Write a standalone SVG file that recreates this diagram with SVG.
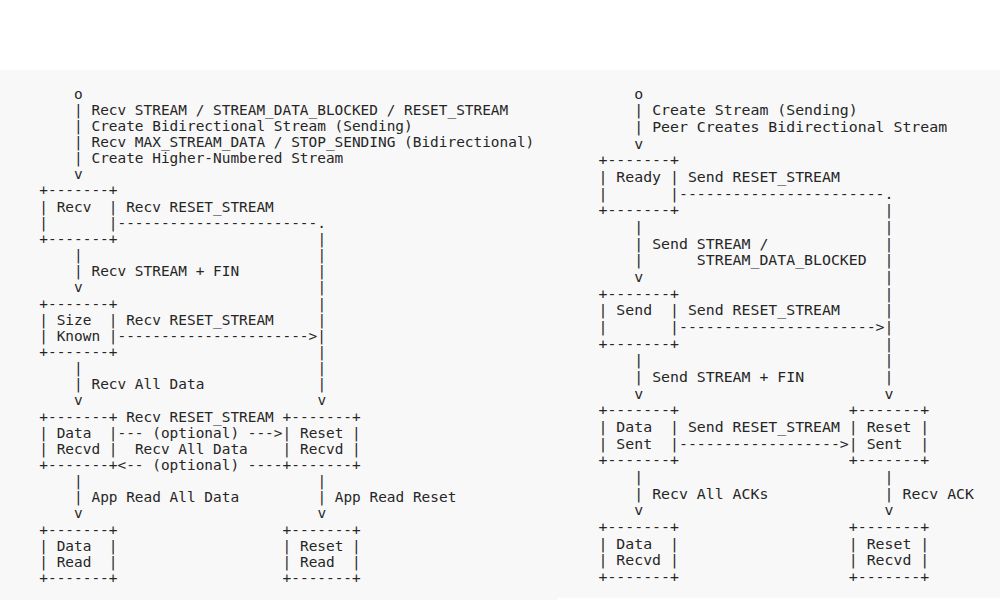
<svg xmlns="http://www.w3.org/2000/svg" width="1000" height="600" viewBox="0 0 1000 600" xml:space="preserve">
<style>
text{font-family:"DejaVu Sans Mono","Liberation Mono",monospace;fill:#262626;white-space:pre}
.l{font-size:14.43px}
.r{font-size:14.85px}
</style>
<rect x="0" y="0" width="1000" height="600" fill="#ffffff"/>
<rect x="0" y="70" width="1000" height="530" fill="#f8f8f8"/>
<rect x="557" y="598" width="443" height="2" fill="#ffffff"/>

<!-- LEFT: receiving stream states -->
<g id="left-diagram" class="l">
  <g id="recv-start"><text x="74.1" y="98.5">o</text></g>
  <g id="node-recv">
    <text x="39.3" y="195.4">+-------+</text>
    <text x="39.3" y="211.6">| Recv  |</text>
    <text x="39.3" y="227.7">|       |</text>
    <text x="39.3" y="243.9">+-------+</text>
  </g>
  <g id="node-size-known">
    <text x="39.3" y="308.5">+-------+</text>
    <text x="39.3" y="324.6">| Size  |</text>
    <text x="39.3" y="340.8">| Known |</text>
    <text x="39.3" y="356.9">+-------+</text>
  </g>
  <g id="node-data-recvd">
    <text x="39.3" y="421.5">+-------+</text>
    <text x="39.3" y="437.7">| Data  |</text>
    <text x="39.3" y="453.8">| Recvd |</text>
    <text x="39.3" y="470.0">+-------+</text>
  </g>
  <g id="node-reset-recvd">
    <text x="282.6" y="421.5">+-------+</text>
    <text x="282.6" y="437.7">| Reset |</text>
    <text x="282.6" y="453.8">| Recvd |</text>
    <text x="282.6" y="470.0">+-------+</text>
  </g>
  <g id="node-data-read">
    <text x="39.3" y="534.6">+-------+</text>
    <text x="39.3" y="550.7">| Data  |</text>
    <text x="39.3" y="566.9">| Read  |</text>
    <text x="39.3" y="583.0">+-------+</text>
  </g>
  <g id="node-reset-read">
    <text x="282.6" y="534.6">+-------+</text>
    <text x="282.6" y="550.7">| Reset |</text>
    <text x="282.6" y="566.9">| Read  |</text>
    <text x="282.6" y="583.0">+-------+</text>
  </g>
  <g id="left-connectors">
    <text x="74.1" y="114.7">| Recv STREAM / STREAM_DATA_BLOCKED / RESET_STREAM</text>
    <text x="74.1" y="130.8">| Create Bidirectional Stream (Sending)</text>
    <text x="74.1" y="147.0">| Recv MAX_STREAM_DATA / STOP_SENDING (Bidirectional)</text>
    <text x="74.1" y="163.1">| Create Higher-Numbered Stream</text>
    <text x="74.1" y="179.3">v</text>
    <text x="126.2" y="211.6">Recv RESET_STREAM</text>
    <text x="117.5" y="227.7">-----------------------.</text>
    <text x="317.4" y="243.9">|</text>
    <text x="74.1" y="260.0">|</text><text x="317.4" y="260.0">|</text>
    <text x="74.1" y="276.2">| Recv STREAM + FIN</text><text x="317.4" y="276.2">|</text>
    <text x="74.1" y="292.3">v</text><text x="317.4" y="292.3">|</text>
    <text x="317.4" y="308.5">|</text>
    <text x="126.2" y="324.6">Recv RESET_STREAM</text><text x="317.4" y="324.6">|</text>
    <text x="117.5" y="340.8">----------------------&gt;|</text>
    <text x="317.4" y="356.9">|</text>
    <text x="74.1" y="373.1">|</text><text x="317.4" y="373.1">|</text>
    <text x="74.1" y="389.2">| Recv All Data</text><text x="317.4" y="389.2">|</text>
    <text x="74.1" y="405.4">v</text><text x="317.4" y="405.4">v</text>
    <text x="126.2" y="421.5">Recv RESET_STREAM</text>
    <text x="117.5" y="437.7">--- (optional) ---&gt;</text>
    <text x="134.9" y="453.8">Recv All Data</text>
    <text x="117.5" y="470.0">&lt;-- (optional) ----</text>
    <text x="74.1" y="486.1">|</text><text x="317.4" y="486.1">|</text>
    <text x="74.1" y="502.3">| App Read All Data</text><text x="317.4" y="502.3">| App Read Reset</text>
    <text x="74.1" y="518.4">v</text><text x="317.4" y="518.4">v</text>
  </g>
</g>

<!-- RIGHT: sending stream states -->
<g id="right-diagram" class="r">
  <g id="send-start"><text x="634.3" y="98.5">o</text></g>
  <g id="node-ready">
    <text x="598.5" y="165.2">+-------+</text>
    <text x="598.5" y="181.9">| Ready |</text>
    <text x="598.5" y="198.5">|       |</text>
    <text x="598.5" y="215.2">+-------+</text>
  </g>
  <g id="node-send">
    <text x="598.5" y="298.5">+-------+</text>
    <text x="598.5" y="315.2">| Send  |</text>
    <text x="598.5" y="331.9">|       |</text>
    <text x="598.5" y="348.6">+-------+</text>
  </g>
  <g id="node-data-sent">
    <text x="598.5" y="415.2">+-------+</text>
    <text x="598.5" y="431.9">| Data  |</text>
    <text x="598.5" y="448.6">| Sent  |</text>
    <text x="598.5" y="465.2">+-------+</text>
  </g>
  <g id="node-reset-sent">
    <text x="848.8" y="415.2">+-------+</text>
    <text x="848.8" y="431.9">| Reset |</text>
    <text x="848.8" y="448.6">| Sent  |</text>
    <text x="848.8" y="465.2">+-------+</text>
  </g>
  <g id="node-data-recvd-send">
    <text x="598.5" y="531.9">+-------+</text>
    <text x="598.5" y="548.6">| Data  |</text>
    <text x="598.5" y="565.3">| Recvd |</text>
    <text x="598.5" y="581.9">+-------+</text>
  </g>
  <g id="node-reset-recvd-send">
    <text x="848.8" y="531.9">+-------+</text>
    <text x="848.8" y="548.6">| Reset |</text>
    <text x="848.8" y="565.3">| Recvd |</text>
    <text x="848.8" y="581.9">+-------+</text>
  </g>
  <g id="right-connectors">
    <text x="634.3" y="115.2">| Create Stream (Sending)</text>
    <text x="634.3" y="131.8">| Peer Creates Bidirectional Stream</text>
    <text x="634.3" y="148.5">v</text>
    <text x="687.9" y="181.9">Send RESET_STREAM</text>
    <text x="679.0" y="198.5">-----------------------.</text>
    <text x="884.6" y="215.2">|</text>
    <text x="634.3" y="231.9">|</text><text x="884.6" y="231.9">|</text>
    <text x="634.3" y="248.5">| Send STREAM /</text><text x="884.6" y="248.5">|</text>
    <text x="634.3" y="265.2">|      STREAM_DATA_BLOCKED</text><text x="884.6" y="265.2">|</text>
    <text x="634.3" y="281.9">v</text><text x="884.6" y="281.9">|</text>
    <text x="884.6" y="298.5">|</text>
    <text x="687.9" y="315.2">Send RESET_STREAM</text><text x="884.6" y="315.2">|</text>
    <text x="679.0" y="331.9">----------------------&gt;|</text>
    <text x="884.6" y="348.6">|</text>
    <text x="634.3" y="365.2">|</text><text x="884.6" y="365.2">|</text>
    <text x="634.3" y="381.9">| Send STREAM + FIN</text><text x="884.6" y="381.9">|</text>
    <text x="634.3" y="398.6">v</text><text x="884.6" y="398.6">v</text>
    <text x="687.9" y="431.9">Send RESET_STREAM</text>
    <text x="679.0" y="448.6">------------------&gt;</text>
    <text x="634.3" y="481.9">|</text><text x="884.6" y="481.9">|</text>
    <text x="634.3" y="498.6">| Recv All ACKs</text><text x="884.6" y="498.6">| Recv ACK</text>
    <text x="634.3" y="515.3">v</text><text x="884.6" y="515.3">v</text>
  </g>
</g>
</svg>
